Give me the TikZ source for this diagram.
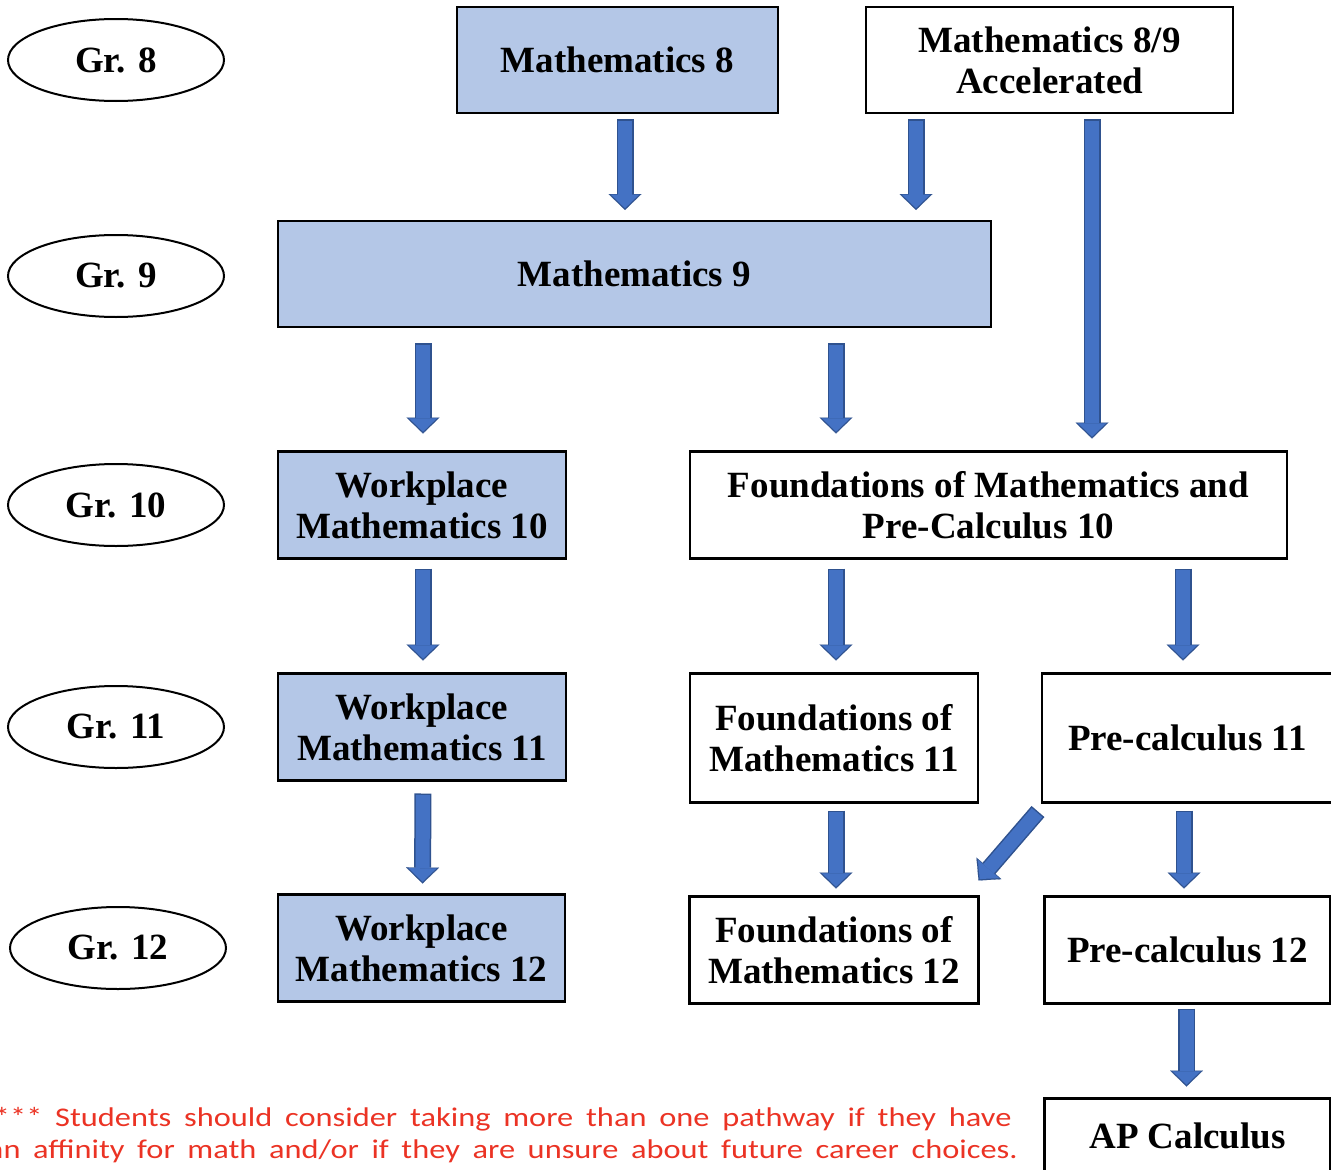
\documentclass[tikz,border=0pt]{standalone}
\usepackage{fontspec}
\setmainfont{Liberation Serif}
\newfontfamily\notefont{Carlito}
\usepackage{tikz}
\usetikzlibrary{positioning}
\usetikzlibrary{arrows.meta}
\usetikzlibrary{shapes.geometric}
\definecolor{boxblue}{RGB}{180,199,231}
\definecolor{arrowfill}{RGB}{68,114,196}
\definecolor{arrowline}{RGB}{47,82,143}
\definecolor{notered}{RGB}{235,51,36}

\begin{document}
\begin{tikzpicture}[
x=1pt, y=-1pt,
every node/.style={font=\fontsize{37}{41}\selectfont\bfseries, align=center, inner sep=0, outer sep=0},
grade/.style={ellipse, draw=black, line width=2pt, minimum width=216pt, minimum height=82pt},
course/.style={rectangle, draw=black, line width=2.5pt, minimum height=107pt, minimum width=#1},
shaded/.style={course=#1, fill=boxblue},
flow/.style 2 args={draw=arrowline, line width=17pt, -{Triangle[width=33pt,length=16pt,line width=0.1pt]},
  shorten <=#1, shorten >=#2,
  postaction={draw=arrowfill, line width=14pt, -{Triangle[width=28pt,length=13.5pt,line width=0.1pt]},
  shorten <=#1+1.5pt, shorten >=#2+1.8pt}}
]
\useasboundingbox (0,0) rectangle (1331,1170);
\node[grade] (g8) at (116,60) {Gr. 8};
\node[grade, below=134pt of g8] (g9) {Gr. 9};
\node[grade, below=147pt of g9] (g10) {Gr. 10};
\node[grade, below=140pt of g10] (g11) {Gr. 11};
\node[grade, below=139pt of g11, xshift=2pt] (g12) {Gr. 12};
\node[shaded=321pt, minimum height=106pt, right=233pt of g8] (m8) {Mathematics 8};
\node[course=367pt, minimum height=106pt, right=88pt of m8] (acc) {Mathematics 8/9\\Accelerated};
\node[shaded=713pt, minimum height=106pt, right=54pt of g9, yshift=2pt] (m9) {Mathematics 9};
\node[shaded=288pt, right=54pt of g10] (wp10) {Workplace\\Mathematics 10};
\node[course=597pt, right=124pt of wp10] (f10) {Foundations of Mathematics and\\Pre-Calculus 10};
\node[shaded=288pt, right=54pt of g11] (wp11) {Workplace\\Mathematics 11};
\node[course=288pt, minimum height=129pt, below right=115pt and 0pt of f10.south west] (f11) {Foundations of\\Mathematics 11};
\node[course=291pt, minimum height=129pt, right=64pt of f11] (p11) {Pre-calculus 11};
\node[shaded=287pt, right=52pt of g12] (wp12) {Workplace\\Mathematics 12};
\node[course=289pt, below=94pt of f11] (f12) {Foundations of\\Mathematics 12};
\node[course=286pt, below=94pt of p11] (p12) {Pre-calculus 12};
\node[course=286pt, minimum height=74pt, below=95pt of p12] (ap) {AP Calculus};
\node[anchor=base west, align=left, text=notered, font=\notefont\fontsize{27}{32}\selectfont] (note) at (-6,1126)
  {\scalebox{1.2}[1]{\vtop{\hbox{\makebox[848pt][s]{*** Students should consider taking more than one pathway if they have}}
  \hbox{\hspace{-5pt}\makebox[858pt][s]{an affinity for math and/or if they are unsure about future career choices.}}}}};
% grade 8 to 9
\draw[flow={6pt}{11pt}] ([xshift=7.5pt]m8.south) -- ([xshift=7.5pt]m8.south |- m9.north);
\draw[flow={6pt}{11pt}] ([xshift=50pt]acc.south west) -- ([xshift=50pt]acc.south west |- m9.north);
\draw[flow={6pt}{13pt}] ([xshift=226pt]acc.south west) -- ([xshift=226pt]acc.south west |- f10.north);
% grade 9 to 10
\draw[flow={16pt}{18pt}] ([xshift=1pt]wp10.north |- m9.south) -- ([xshift=1pt]wp10.north);
\draw[flow={16pt}{18pt}] ([xshift=146pt]f10.north west |- m9.south) -- ([xshift=146pt]f10.north west);
% grade 10 to 11
\draw[flow={10pt}{13pt}] ([xshift=1pt]wp10.south) -- ([xshift=1pt]wp11.north);
\draw[flow={10pt}{13pt}] ([xshift=2pt]f11.north |- f10.south) -- ([xshift=2pt]f11.north);
\draw[flow={10pt}{13pt}] ([xshift=-4.5pt]p11.north |- f10.south) -- ([xshift=-4.5pt]p11.north);
% grade 11 to 12
\draw[flow={13pt}{11pt}] ([xshift=1pt]wp11.south) -- ([xshift=1pt]wp12.north);
\draw[flow={8pt}{8pt}] ([xshift=2pt]f11.south) -- ([xshift=2pt]f11.south |- f12.north);
\draw[flow={8pt}{8pt}] ([xshift=-3.5pt]p11.south) -- ([xshift=-3.5pt]p11.south |- p12.north);
\draw[flow={0pt}{0pt}] ([xshift=-4pt,yshift=-9pt]p11.south west) -- ([yshift=16pt]f12.north east);
% AP
\draw[flow={5pt}{12pt}] ([xshift=-1pt]p12.south) -- ([xshift=-1pt]ap.north);
\end{tikzpicture}
\end{document}
